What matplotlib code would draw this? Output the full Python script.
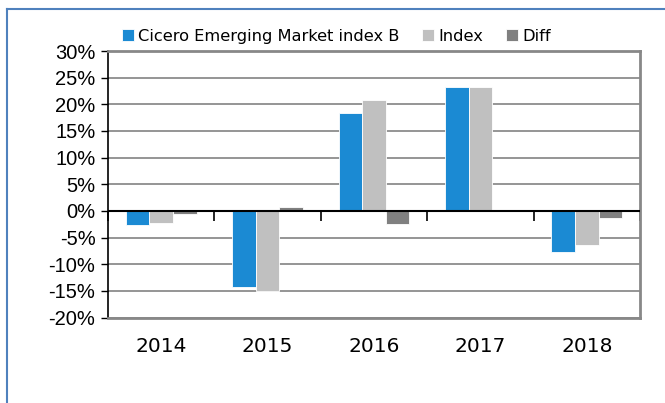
import numpy as np
import matplotlib
matplotlib.use("Agg")
from matplotlib import pyplot as plt
from matplotlib.lines import Line2D
from matplotlib.ticker import FixedLocator, NullFormatter

# Dados do gráfico
years = ["2014", "2015", "2016", "2017", "2018"]
cicero = [-2.6, -14.3, 18.3, 23.3, -7.7]
index = [-2.2, -15.0, 20.8, 23.3, -6.4]
diff = [-0.5, 0.8, -2.5, 0.0, -1.3]
seriesNames = ["Cicero Emerging Market index B", "Index", "Diff"]
colors = ["#1b8ad3", "#c0c0c0", "#808080"]
yTicks = list(range(-20, 31, 5))

fig = plt.figure(figsize=(6.65, 4.03), dpi=100)
ax = fig.add_axes([0.1624, 0.2119, 0.8, 0.6615])

x = np.arange(len(years))
width = 1 / 4.5
for i, (vals, name, col) in enumerate(zip([cicero, index, diff], seriesNames, colors)):
    ax.bar(x + (i - 1) * width, vals, width, color=col, label=name,
           edgecolor="white", linewidth=0.6, zorder=3)

ax.set_xlim(-0.5, len(years) - 0.5)
ax.set_ylim(-20, 30)
ax.set_yticks(yTicks)
ax.set_yticklabels([f"{t}%" for t in yTicks], fontfamily="Liberation Sans", fontsize=14.5)
ax.tick_params(axis="y", direction="out", length=5, width=1, pad=4)
ax.grid(axis="y", color="#8c8c8c", linewidth=1.3, zorder=0)

# Rótulos dos anos embaixo, sem marcas
ax.xaxis.set_major_locator(FixedLocator(x))
ax.set_xticklabels(years, fontsize=14.5)
ax.tick_params(axis="x", length=0, pad=14)

# Eixo horizontal no zero com marcas entre categorias
zeroPos = (0 - (-20)) / 50
sec = ax.secondary_xaxis(zeroPos)
sec.set_xticks(np.arange(len(years) + 1) - 0.5)
sec.xaxis.set_major_formatter(NullFormatter())
sec.tick_params(axis="x", direction="out", length=7, width=1.2, color="black")
sec.spines["bottom"].set_visible(False)
sec.spines["top"].set_color("black")
sec.spines["top"].set_linewidth(1.5)
ax.axhline(0, color="black", linewidth=1.5, zorder=4)

for side in ["top", "right", "bottom"]:
    ax.spines[side].set_color("#888888")
    ax.spines[side].set_linewidth(2)
ax.spines["left"].set_color("black")
ax.spines["left"].set_linewidth(1.2)

fig.legend(loc="upper left", bbox_to_anchor=(0.173, 0.945), ncol=3, frameon=False,
           handlelength=0.75, handleheight=0.75, handletextpad=0.25, columnspacing=1.4,
           prop={"size": 11.7}, borderaxespad=0)

# Moldura externa azul
fig.add_artist(Line2D([7 / 665, 7 / 665], [0, 1 - 9 / 403], color="#4f81bd", linewidth=1.5))
fig.add_artist(Line2D([7 / 665, 1], [1 - 9 / 403, 1 - 9 / 403], color="#4f81bd", linewidth=1.5))

fig.savefig("out.png", dpi=100)
